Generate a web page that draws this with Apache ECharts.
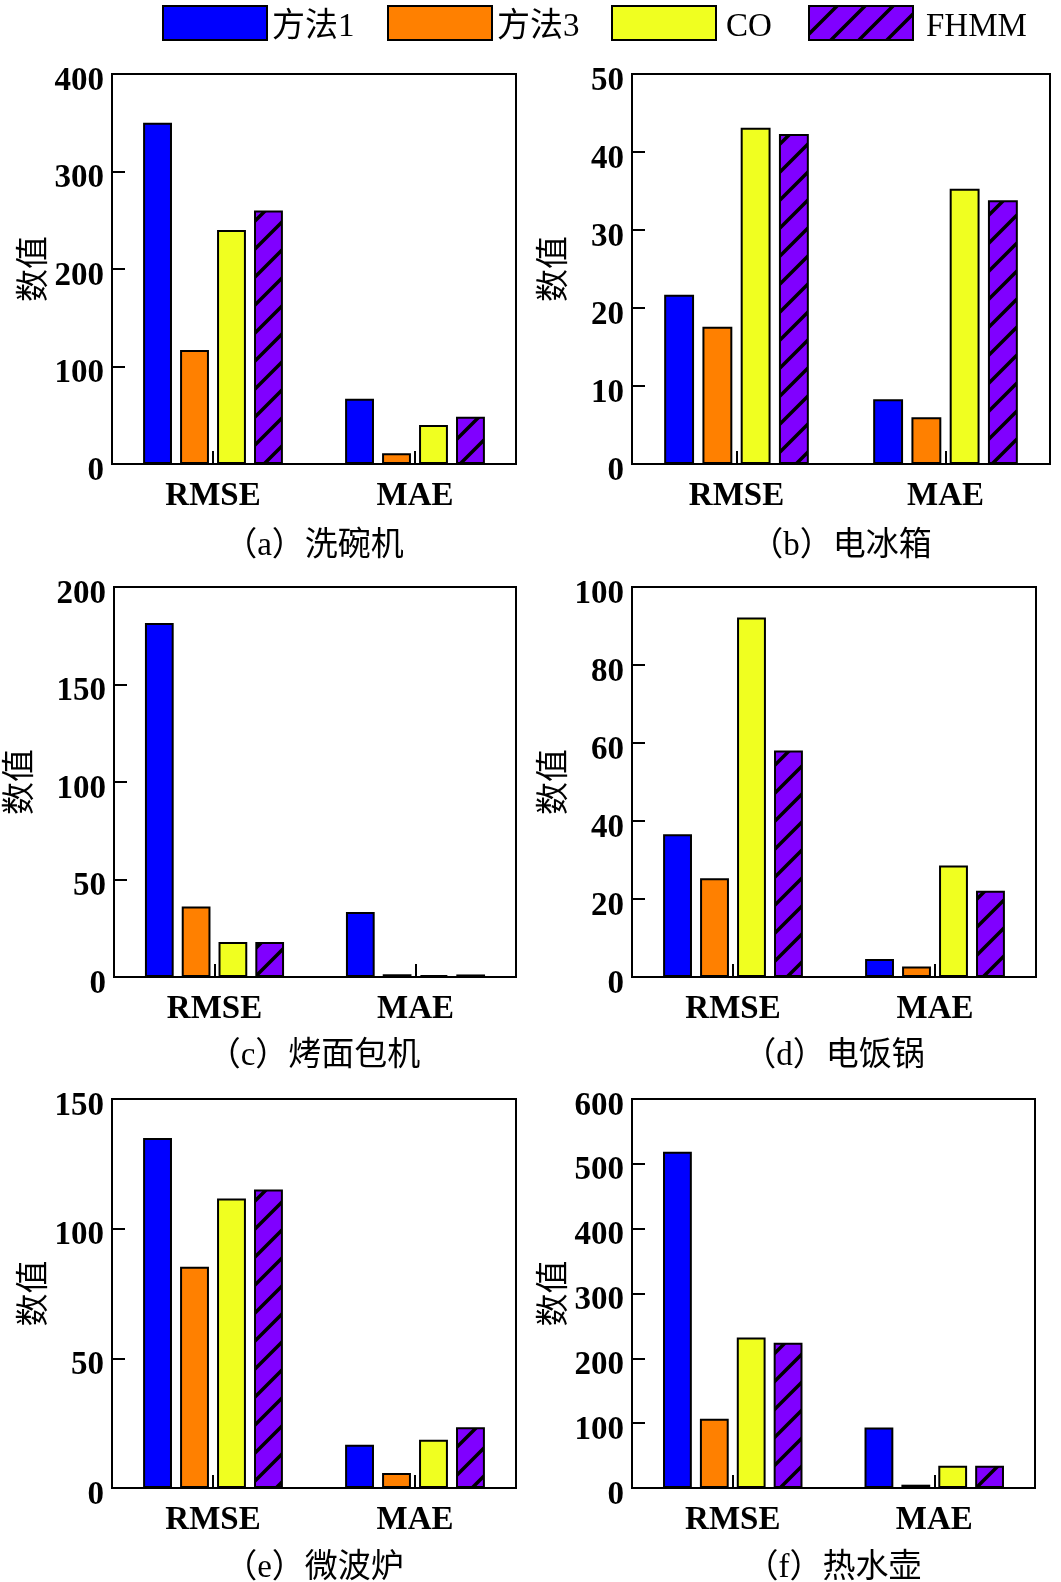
<!DOCTYPE html>
<html><head><meta charset="utf-8">
<script src="https://cdn.jsdelivr.net/npm/echarts@6/dist/echarts.min.js"></script>
<style>html,body{margin:0;padding:0;background:#fff}#c{width:1061px;height:1582px}</style>
</head><body><div id="c"></div>
<script>
const categories = ['RMSE', 'MAE'];
const seriesNames = ['方法1', '方法3', 'CO', 'FHMM'];
const panelTitles = ['（a）洗碗机', '（b）电冰箱', '（c）烤面包机', '（d）电饭锅', '（e）微波炉', '（f）热水壶'];
const yMax = [400, 50, 200, 100, 150, 600];
const yInterval = [100, 10, 50, 20, 50, 100];
const method1RMSE = [350, 21.7, 181.5, 36.6, 135, 518.8];
const method1MAE  = [67, 8.3, 33.3, 4.6, 16.7, 93.4];
const method3RMSE = [117, 17.6, 36.2, 25.3, 85.3, 106.8];
const method3MAE  = [11, 6.0, 1.4, 2.7, 5.8, 5.1];
const coRMSE      = [240, 43.1, 17.9, 92.2, 111.6, 232.2];
const coMAE       = [40, 35.3, 0.9, 28.6, 18.6, 34.4];
const fhmmRMSE    = [260, 42.3, 17.9, 58.1, 115.1, 224];
const fhmmMAE     = [48.5, 33.8, 1.3, 22.1, 23.4, 34.4];

const rmseBySeries = [method1RMSE, method3RMSE, coRMSE, fhmmRMSE];
const maeBySeries = [method1MAE, method3MAE, coMAE, fhmmMAE];

const LATIN = "'Liberation Serif', 'Times New Roman', serif";
const MIXED = "'Liberation Serif', 'Noto Sans CJK SC', serif";

function makeHatch() {
  const P = 28;
  const c = document.createElement('canvas');
  c.width = P; c.height = P;
  const ctx = c.getContext('2d');
  ctx.fillStyle = '#8000FF';
  ctx.fillRect(0, 0, P, P);
  ctx.strokeStyle = '#000';
  ctx.lineWidth = 3.5;
  ctx.beginPath();
  [0, P, 2 * P].forEach(k => { ctx.moveTo(-4, k + 4); ctx.lineTo(k + 4, -4); });
  ctx.stroke();
  return { image: c, repeat: 'repeat' };
}
const colors = ['#0000FF', '#FF8000', '#F0FF20', makeHatch()];

const layout = [
  { left: 112, top: 74, width: 404, height: 390, gap: 64 },
  { left: 632, top: 74, width: 418, height: 390, gap: 64 },
  { left: 112, top: 587, width: 404, height: 390, gap: 80 },
  { left: 632, top: 587, width: 404, height: 390, gap: 64 },
  { left: 112, top: 1099, width: 404, height: 389, gap: 64 },
  { left: 632, top: 1099, width: 403, height: 389, gap: 64 }
];
const titleY = [546, 546, 1056, 1056, 1568, 1568];

const grids = [], xAxes = [], yAxes = [], series = [], graphics = [];
layout.forEach((g, i) => {
  grids.push({ left: g.left, top: g.top, width: g.width, height: g.height, show: true,
    borderColor: '#000', borderWidth: 2, backgroundColor: 'transparent', containLabel: false });
  xAxes.push({ type: 'category', gridIndex: i, data: categories,
    axisLine: { show: true, lineStyle: { color: '#000', width: 2 } },
    axisTick: { show: true, inside: true, alignWithLabel: true, length: 13, lineStyle: { color: '#000', width: 2 } },
    axisLabel: { margin: 16, fontSize: 33, fontWeight: 'bold', fontFamily: LATIN, color: '#000' },
    splitLine: { show: false } });
  yAxes.push({ type: 'value', gridIndex: i, min: 0, max: yMax[i], interval: yInterval[i],
    axisLine: { show: true, lineStyle: { color: '#000', width: 2 } },
    axisTick: { show: true, inside: true, length: 13, lineStyle: { color: '#000', width: 2 } },
    axisLabel: { margin: 8, color: '#000',
      formatter: v => '{t|' + v + '}',
      rich: { t: { fontSize: 33, fontWeight: 'bold', fontFamily: LATIN, color: '#000', padding: [14, 0, 0, 0] } } },
    splitLine: { show: false },
    name: '数值', nameLocation: 'middle', nameGap: g.gap,
    nameTextStyle: { fontSize: 33, fontFamily: "'Noto Sans CJK SC'", color: '#000' } });
  seriesNames.forEach((nm, s) => {
    series.push({ name: nm, type: 'bar', xAxisIndex: i, yAxisIndex: i,
      data: [rmseBySeries[s][i], maeBySeries[s][i]],
      barWidth: '14.3%', barGap: '28%',
      itemStyle: { color: colors[s], borderColor: '#000', borderWidth: 2 } });
  });
  graphics.push({ type: 'text', x: g.left + g.width / 2, y: titleY[i],
    style: { text: panelTitles[i], fontSize: 33, fontFamily: MIXED, fill: '#000',
      align: 'center', verticalAlign: 'middle', textAlign: 'center', textVerticalAlign: 'middle' } });
});

const legendLefts = [162, 387, 611, 808];
const legendTextPad = [0, 0, 5, 8];
const legends = seriesNames.map((nm, s) => ({
  data: [nm], left: legendLefts[s], top: 5, padding: 0, icon: 'rect',
  itemWidth: 104, itemHeight: 34, itemGap: 5, selectedMode: false,
  itemStyle: { borderColor: '#000', borderWidth: 2 },
  formatter: name => '{n|' + name + '}',
  textStyle: { fontSize: 33, fontFamily: MIXED, color: '#000',
    rich: { n: { fontSize: 33, fontFamily: MIXED, color: '#000', padding: [8, 0, 0, legendTextPad[s]] } } }
}));

const chart = echarts.init(document.getElementById('c'), null, { renderer: 'canvas' });
chart.setOption({
  backgroundColor: '#fff',
  animation: false,
  legend: legends,
  grid: grids, xAxis: xAxes, yAxis: yAxes, series: series,
  graphic: graphics
});
</script></body></html>
